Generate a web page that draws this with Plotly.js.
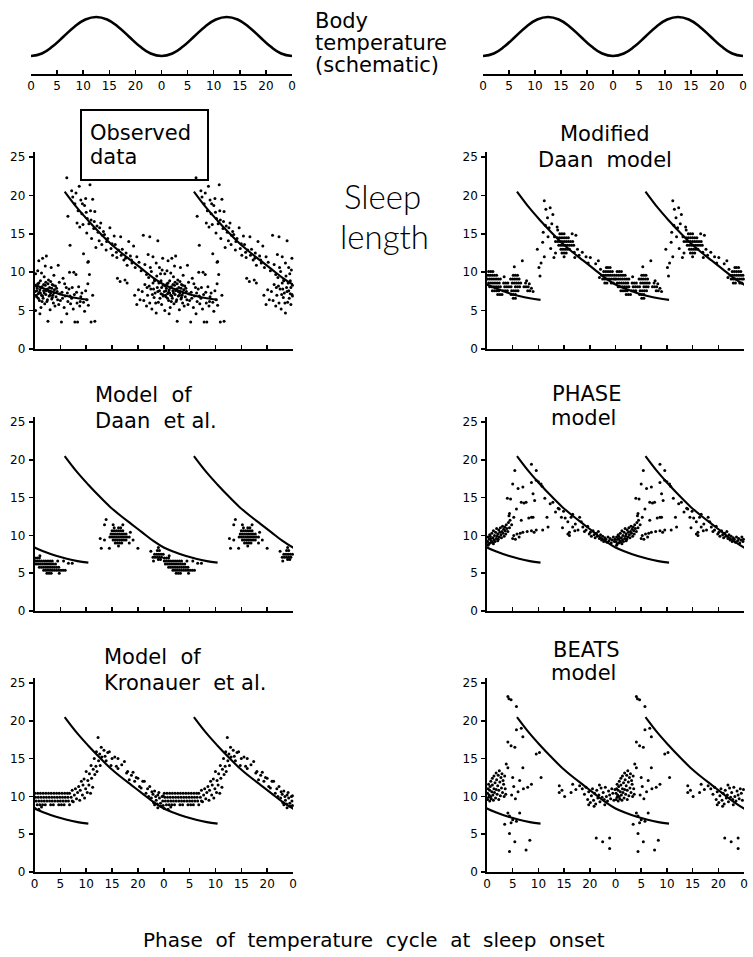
<!DOCTYPE html>
<html><head><meta charset="utf-8">
<script src="https://cdn.plot.ly/plotly-3.0.1.min.js"></script>
<style>html,body{margin:0;padding:0;background:#fff}</style>
</head><body><div id="chart" style="width:753px;height:957px"></div>
<script>
// ---------------- DATA ----------------
const TICK_POS = [0,4.8,9.6,14.4,19.2,24,28.8,33.6,38.4,43.2,48];
const TICK_TEXT = ['0','5','10','15','20','0','5','10','15','20','0'];
const Y_TICKS = [0,5,10,15,20,25];

// schematic body temperature, one cycle (double plotted)
const TEMP_PHASE = [0,2,4,6,8,10,12,14,16,18,20,22,24];
const TEMP_VALUE = [-1,-0.87,-0.5,0,0.5,0.87,1,0.87,0.5,0,-0.5,-0.87,-1];

// reference curve (fit to observed sleep length), drawn in every panel
const CURVE_PHASE = [5.6,8,10,12,14,16,18,20,22,24,26,28,30,32,34];
const CURVE_LEN   = [20.5,18.3,16.7,15.2,13.8,12.6,11.5,10.4,9.3,8.4,7.8,7.3,6.9,6.6,6.4];

// [phase (0-24), sleep length h] — each panel is double plotted
const observed = [
[0.1,7.5],[0.2,9.8],[0.3,8.2],[0.4,6.8],[0.5,7.9],[0.6,10.2],[0.7,7.2],[0.8,8.6],[0.9,6.3],[1.0,7.7],[1.1,8.9],[1.2,5.4],[1.3,7.0],[1.4,8.1],[1.5,11.8],[1.6,6.6],[1.7,7.6],[1.8,9.4],[1.9,5.9],[2.0,8.3],[2.1,7.1],[2.2,12.1],[2.3,6.2],[2.4,7.8],[2.5,3.6],[2.6,9.0],[2.7,6.9],[2.8,8.0],[2.9,5.1],[3.0,7.3],[3.1,10.6],[3.2,6.5],[3.3,8.4],[3.4,7.0],[3.5,6.0],[3.6,9.6],[3.7,7.7],[3.8,5.6],[3.9,8.2],[4.0,6.8],[4.2,7.5],[4.4,10.9],[4.5,5.8],[4.6,8.7],[4.8,6.3],[5.0,3.5],[5.1,7.4],[5.3,9.2],[5.5,5.4],[5.7,6.9],[5.9,8.0],[6.0,4.6],[6.2,6.2],[6.4,7.8],[6.5,10.0],[6.7,5.9],[6.9,6.6],[7.2,5.2],[7.4,7.1],[7.5,3.5],[7.7,9.7],[7.9,6.0],[8.0,3.5],[8.2,8.1],[8.4,5.6],[8.6,6.8],[8.8,7.3],[9.1,6.1],[9.3,4.9],[9.5,7.6],[9.7,6.4],[9.9,8.5],[10.0,5.7],[10.2,9.7],[10.5,3.5],
[0.3,7.0],[0.6,8.5],[0.9,7.4],[1.2,8.0],[1.5,6.9],[1.8,7.3],[2.1,8.7],[2.4,6.4],[2.7,7.5],[3.0,8.8],[3.3,6.7],[3.6,7.3],[0.2,5.0],[1.0,4.6],[2.0,10.8],[0.8,11.5],[1.3,9.9],[9.9,11.3],[11.2,3.6],[10.8,7.0],
[0.4,7.6],[0.7,6.6],[1.1,7.3],[1.4,6.2],[1.7,8.4],[2.2,7.6],[2.5,8.5],[2.9,7.0],[3.2,7.9],[3.5,8.3],[4.1,7.9],[4.3,6.4],[4.7,7.2],[5.2,6.6],[5.6,8.5],[6.1,7.3],[6.6,6.9],[7.0,8.0],[7.8,7.4],[8.5,6.2],
[6.0,22.3],[6.2,17.3],[6.6,13.5],[6.9,20.6],[7.1,19.8],[7.3,10.0],[7.5,18.9],[7.7,20.3],[7.9,16.4],[8.1,18.0],[8.3,21.2],[8.4,15.9],[8.6,19.4],[8.8,17.6],[9.0,16.2],[9.1,12.4],[9.3,18.7],[9.5,19.6],[9.7,15.1],[9.8,17.0],[10.0,11.4],[10.1,16.3],[10.3,21.4],[10.5,16.8],[10.6,14.4],[10.8,19.5],[11.0,15.7],[11.2,17.9],[11.4,13.2],[11.6,16.0],[11.8,15.2],[12.0,14.1],[12.3,16.4],[12.5,13.6],[12.8,15.3],[13.0,14.9],[13.3,12.9],[13.6,14.4],[14.0,15.8],[14.2,13.1],[14.5,12.2],[14.8,14.7],[15.0,13.6],[15.3,11.9],[15.6,12.9],[16.0,14.6],[16.3,13.0],[16.6,11.6],[17.0,12.5],[17.2,10.9],[17.5,14.0],[17.8,12.1],[18.1,11.2],[18.4,13.4],[18.7,10.6],[19.0,12.0],[19.4,11.3],[19.8,10.2],[20.2,14.8],[20.5,11.0],[20.8,9.7],[21.1,12.3],[21.4,14.6],[21.7,10.1],[22.0,12.0],[22.3,9.0],[22.6,11.2],[22.9,14.1],[23.2,10.6],[23.5,8.9],[23.8,11.8],
[8.9,18.9],[9.6,17.8],[10.4,18.0],[11.1,16.6],[12.1,15.8],[12.6,14.8],[13.4,14.0],[14.4,13.7],[15.2,12.6],[16.1,12.2],[16.9,11.8],[18.0,11.6],
[15.4,9.2],[15.9,8.8],[16.8,9.0],[17.2,8.6],[18.6,7.0],[19.0,5.8],[19.3,7.7],[19.6,6.4],
[20.0,7.5],[20.3,6.3],[20.5,8.4],[20.8,5.6],[21.0,7.0],[21.2,9.3],[21.4,6.0],[21.6,7.8],[21.8,5.2],[22.0,8.6],[22.2,6.7],[22.4,7.3],[22.6,4.7],[22.8,8.0],[23.0,6.1],[23.2,7.6],[23.4,9.8],[23.6,5.8],[23.8,7.1],[23.9,8.3],[21.5,10.6],[22.1,7.8],[22.7,9.5],[23.1,8.6],[23.5,7.2],[23.7,10.3],[20.9,8.0],[22.5,6.0],
[21.3,8.2],[21.9,7.1],[22.3,8.9],[22.9,7.5],[23.3,6.6],[23.6,8.0],[23.9,6.9]
];

const modifiedDaan = [
[0.3,10.1],[0.7,10.1],[1.1,10.1],
[0.2,9.6],[0.6,9.6],[1.0,9.6],[1.4,9.6],[1.8,9.6],[4.9,9.6],[5.3,9.6],[5.7,9.6],
[0.1,9.1],[0.5,9.1],[0.9,9.1],[1.3,9.1],[1.7,9.1],[2.1,9.1],[2.5,9.1],[4.4,9.1],[4.8,9.1],[5.2,9.1],[5.6,9.1],[6.0,9.1],
[0.3,8.6],[0.7,8.6],[1.1,8.6],[1.5,8.6],[1.9,8.6],[2.3,8.6],[3.1,8.6],[3.5,8.6],[3.9,8.6],[4.7,8.6],[5.1,8.6],[5.5,8.6],[5.9,8.6],[6.3,8.6],[7.2,8.6],
[0.5,8.1],[0.9,8.1],[1.3,8.1],[1.7,8.1],[2.1,8.1],[2.5,8.1],[3.3,8.1],[3.7,8.1],[4.1,8.1],[4.5,8.1],[5.3,8.1],[5.7,8.1],[6.1,8.1],[6.9,8.1],[7.3,8.1],[7.7,8.1],
[1.0,7.6],[1.4,7.6],[1.8,7.6],[2.2,7.6],[3.0,7.6],[3.4,7.6],[3.8,7.6],[4.6,7.6],[5.0,7.6],[5.4,7.6],[5.8,7.6],[7.6,7.6],[8.0,7.6],
[2.0,7.1],[2.4,7.1],[2.8,7.1],[4.5,7.1],[4.9,7.1],[5.3,7.1],[4.9,6.6],[5.3,6.6],
[5.1,10.7],[6.6,11.5],[3.2,9.4],[7.9,8.5],[8.3,7.9],[8.6,7.5],[7.4,8.9],
[9.4,13.0],[9.9,9.5],[10.1,11.2],[10.4,13.9],[10.7,19.3],[10.7,12.0],[11.0,18.2],[11.3,17.1],[11.6,15.8],[11.9,13.1],[12.5,11.9],[10.9,16.1],[11.4,14.6],[12.1,16.3],[12.3,17.5],[11.8,18.4],[9.7,10.6],[10.5,15.2],
[13.2,15.5],[13.6,15.0],[14.0,15.0],[14.4,15.0],
[13.2,14.5],[13.6,14.5],[14.0,14.5],[14.4,14.5],[14.8,14.5],[15.2,14.5],
[12.8,14.0],[13.2,14.0],[13.6,14.0],[14.0,14.0],[14.4,14.0],[14.8,14.0],[15.2,14.0],[15.6,14.0],[16.0,14.0],
[13.4,13.5],[13.8,13.5],[14.2,13.5],[14.6,13.5],[15.0,13.5],[15.4,13.5],[15.8,13.5],[16.2,13.5],
[13.8,13.0],[14.2,13.0],[14.6,13.0],[15.0,13.0],[15.4,13.0],
[14.0,12.5],[14.4,12.5],[14.8,12.5],[16.3,12.6],[14.4,12.0],
[12.8,12.5],[13.1,15.9],[16.6,14.8],[16.9,13.0],[17.2,12.2],[12.6,14.6],[15.9,15.0],[16.4,11.9],
[17.8,12.6],[18.5,12.0],[19.3,11.9],[20.3,11.1],[20.8,11.5],[18.9,11.2],
[22.3,10.6],[22.6,10.6],[23.0,10.6],
[21.8,10.1],[22.2,10.1],[22.6,10.1],[23.0,10.1],[23.4,10.1],
[21.4,9.6],[21.8,9.6],[22.2,9.6],[22.6,9.6],[23.0,9.6],[23.4,9.6],[23.8,9.6],
[21.6,9.1],[22.0,9.1],[22.4,9.1],[22.8,9.1],[23.2,9.1],[23.6,9.1],[23.9,9.1],
[22.0,8.6],[22.4,8.6],[23.2,8.6],[23.6,8.6],[21.2,10.4],[21.0,9.3]
];

const daanModel = [
[0.1,7.0],[0.5,7.0],[0.9,7.0],
[0.1,6.6],[0.5,6.6],[0.9,6.6],[1.3,6.6],[1.7,6.6],[2.1,6.6],[2.5,6.6],[2.9,6.6],[3.3,6.6],
[0.3,6.2],[0.7,6.2],[1.1,6.2],[1.5,6.2],[1.9,6.2],[2.3,6.2],[2.7,6.2],[3.1,6.2],[3.5,6.2],[3.9,6.2],
[0.9,5.8],[1.3,5.8],[1.7,5.8],[2.1,5.8],[2.5,5.8],[2.9,5.8],[3.3,5.8],[3.7,5.8],[4.1,5.8],[4.5,5.8],
[1.7,5.4],[2.1,5.4],[2.5,5.4],[2.9,5.4],[3.3,5.4],[3.7,5.4],[4.1,5.4],[4.5,5.4],[4.9,5.4],[5.3,5.4],[5.7,5.4],
[2.3,5.0],[2.7,5.0],[3.1,5.0],[4.6,5.0],
[4.3,6.6],[5.4,6.6],[6.3,6.3],[7.0,6.3],[1.0,7.3],
[13.3,12.1],[13.0,11.4],[14.6,11.4],[16.4,11.4],[14.8,11.0],[15.6,11.0],[16.0,11.0],
[14.4,10.6],[14.8,10.6],[15.2,10.6],[15.6,10.6],[16.0,10.6],[16.4,10.6],
[14.2,10.2],[14.6,10.2],[15.0,10.2],[15.4,10.2],[15.8,10.2],[16.2,10.2],[16.6,10.2],[17.0,10.2],
[14.0,9.8],[14.4,9.8],[14.8,9.8],[15.2,9.8],[15.6,9.8],[16.0,9.8],[16.4,9.8],[16.8,9.8],[17.2,9.8],[17.6,9.8],
[13.0,9.4],[14.6,9.4],[15.0,9.4],[15.4,9.4],[15.8,9.4],[16.2,9.4],[16.6,9.4],[17.0,9.4],[18.3,9.4],
[15.0,9.0],[15.4,9.0],[15.8,9.0],[16.2,9.0],[17.6,9.0],[15.6,8.6],
[12.4,8.3],[13.9,8.3],[19.2,8.3],[12.2,9.6],[17.8,10.4],
[23.0,8.4],[22.8,8.0],[23.2,8.0],
[22.3,7.5],[22.7,7.5],[23.1,7.5],[23.5,7.5],[23.9,7.5],
[22.0,7.1],[22.4,7.1],[22.8,7.1],[23.2,7.1],[23.6,7.1],
[23.0,6.8],[23.4,6.8],[21.6,7.9],[22.1,6.6]
];

const phaseModel = [
[0.1,9.2],[0.2,9.8],[0.3,8.9],[0.4,9.5],[0.5,10.1],[0.6,9.0],[0.7,9.6],[0.8,9.3],[0.9,10.3],[1.0,9.1],[1.1,9.7],[1.2,10.6],[1.3,9.4],[1.4,10.0],[1.5,9.2],[1.6,10.4],[1.7,9.6],[1.8,10.9],[1.9,9.9],[2.0,10.2],[2.1,9.5],[2.2,10.7],[2.3,9.8],[2.4,10.4],[2.5,11.0],[2.6,10.1],[2.7,9.7],[2.8,10.5],[2.9,11.2],[3.0,10.3],[3.1,10.8],[3.2,9.9],[3.3,11.1],[3.4,10.6],[3.5,10.2],[3.6,11.4],[3.7,10.9],[3.9,10.5],[4.0,11.7],[4.2,11.0],[0.2,8.7],[0.6,9.9],[1.2,8.9],[2.0,9.3],
[4.1,12.6],[4.3,12.0],[4.6,11.4],[4.4,14.8],[3.8,14.9],
[5.0,10.0],[5.6,10.2],[6.2,10.3],[6.7,10.4],[7.5,10.5],[8.3,10.6],[9.2,10.7],[10.4,10.7],[11.4,11.1],[8.8,10.4],[6.0,9.8],[5.3,9.5],[4.8,9.6],
[4.2,12.9],[5.5,13.5],[6.4,12.0],[6.4,14.4],[7.3,14.4],[8.6,12.4],[8.9,14.6],[8.3,12.4],[7.8,12.3],[5.0,12.4],
[4.8,16.8],[5.2,18.6],[5.8,16.2],[6.7,16.4],[8.3,19.4],[8.3,17.0],[9.2,18.6],[9.2,17.3],[10.1,16.8],[8.6,15.5],[6.9,14.3],[9.6,17.1],[10.3,16.5],
[10.8,14.9],[11.2,12.4],[11.8,14.2],[12.3,14.4],[12.8,13.1],[13.3,13.6],[13.5,13.5],[13.9,12.4],[14.3,13.2],[14.6,12.3],[15.1,11.8],[15.4,10.4],[15.7,12.4],[16.0,11.1],[16.0,12.8],[16.5,11.5],[17.0,10.7],[17.3,12.4],[17.6,11.8],[17.9,11.1],[18.2,10.5],[18.5,10.7],[18.8,11.2],[19.1,10.2],[15.1,10.2],[15.4,10.0],[16.4,10.6],[14.1,11.0],
[19.3,10.4],[19.5,9.9],[19.8,10.6],[20.0,10.1],[20.2,9.7],[20.4,10.3],[20.6,9.9],[20.8,10.5],[21.0,9.6],[21.2,10.1],[21.4,9.4],[21.6,9.9],[21.8,9.2],[22.0,9.7],[22.2,9.5],[22.4,9.1],[22.6,9.8],[22.8,9.3],[23.0,9.6],[23.2,9.0],[23.4,9.4],[23.6,9.8],[23.8,9.2],[23.9,9.5]
];

const kronauerModel = [
[0.1,10.4],[0.6,10.4],[1.1,10.4],[1.6,10.4],[2.1,10.4],[2.6,10.4],[3.1,10.4],[3.6,10.4],[4.1,10.4],[4.6,10.4],[5.1,10.4],[5.6,10.4],[6.1,10.4],[6.5,10.4],
[0.2,9.9],[0.7,9.9],[1.2,9.9],[1.7,9.9],[2.2,9.9],[2.7,9.9],[3.2,9.9],[3.7,9.9],[4.2,9.9],[4.7,9.9],[5.2,9.9],[5.7,9.9],[6.2,9.9],[6.8,9.9],
[0.3,9.4],[0.8,9.4],[1.3,9.4],[1.8,9.4],[2.3,9.4],[2.8,9.4],[3.3,9.4],[3.8,9.4],[4.3,9.4],[4.8,9.4],[5.3,9.4],[5.8,9.4],[6.3,9.4],[7.0,9.4],
[0.5,8.9],[1.0,8.9],[1.5,8.9],[2.0,8.9],[3.0,8.9],[3.5,8.9],[4.5,8.9],[5.0,8.9],[5.5,8.9],[6.5,8.9],
[0.1,8.4],[0.8,8.3],[1.3,8.6],
[7.0,10.8],[7.2,9.3],[7.4,10.2],[7.6,11.0],[7.8,9.7],[8.0,10.5],[8.2,11.3],[8.4,9.5],[8.5,10.8],[8.7,12.0],[8.9,10.2],[9.0,11.5],[9.2,12.3],[9.3,9.8],[9.5,11.0],[9.6,13.3],[9.8,10.5],[9.9,12.1],[10.1,11.5],[10.2,13.0],[10.4,10.4],[10.5,14.1],[10.6,12.4],[10.8,11.2],[10.9,13.6],[11.1,15.0],[11.2,12.9],[11.4,14.0],[11.5,15.9],[11.6,13.3],[11.8,17.8],[11.9,14.7],[12.1,15.6],[12.2,14.1],[12.4,16.5],[12.5,15.2],
[12.9,16.1],[13.1,15.3],[13.3,14.7],[13.6,15.8],[13.9,15.9],[14.2,14.1],[14.4,15.0],[14.9,15.2],[15.2,14.0],[15.5,15.0],[15.5,13.7],[16.2,14.2],[16.7,14.6],[17.1,13.1],[17.3,13.3],[17.6,12.2],[18.0,12.8],[18.3,13.2],[18.6,12.0],[18.9,12.5],[19.2,12.4],[19.5,11.3],[19.8,11.1],[20.1,12.0],[20.4,12.0],[20.7,10.4],[21.0,11.0],[21.4,11.3],[21.7,9.8],[22.0,10.3],[22.3,10.7],[22.3,8.9],[22.6,9.5],[22.9,10.2],[22.9,8.5],[23.2,9.8],[23.5,8.7],[23.8,9.4],[23.9,10.1],
[21.2,10.0],[21.8,10.6],[22.1,9.2],[22.5,10.0],[22.8,9.0],[23.1,10.5],[23.4,9.1],[23.7,10.0],[23.9,8.8]
];

const beatsModel = [
[0.1,9.6],[0.1,10.4],[0.2,11.0],[0.3,9.9],[0.3,11.6],[0.4,10.2],[0.5,9.4],[0.5,10.8],[0.6,11.3],[0.7,10.0],[0.7,12.0],[0.8,9.7],[0.9,10.6],[1.0,11.5],[1.0,12.4],[1.1,10.2],[1.2,9.5],[1.3,11.0],[1.3,12.7],[1.4,10.5],[1.5,11.8],[1.6,9.8],[1.7,10.9],[1.7,13.1],[1.8,12.2],[1.9,10.3],[2.0,11.4],[2.1,12.8],[2.2,9.6],[2.2,10.8],[2.3,13.4],[2.4,11.9],[2.5,10.1],[2.6,12.5],[2.7,11.1],[2.8,13.0],[2.9,10.5],[3.0,12.1],[3.1,11.6],[3.2,10.0],[3.3,12.7],[3.4,11.0],[3.5,10.3],
[3.6,14.3],[3.9,13.8],[3.9,23.2],[4.1,22.9],[4.5,22.8],[5.5,21.9],[3.9,17.2],[4.5,16.7],[5.2,16.5],[5.5,18.8],[6.4,19.0],[6.7,17.9],[4.8,12.5],[6.1,12.1],[6.7,13.8],[9.2,15.6],[9.8,15.8],[10.1,12.5],[8.3,11.6],[7.6,11.2],[5.0,11.3],[5.8,10.6],[6.8,11.0],[4.6,10.2],[5.3,9.7],
[3.9,7.8],[4.2,7.4],[4.5,6.5],[5.5,6.7],[3.3,6.3],[4.2,5.1],[5.2,4.0],[4.2,2.7],[7.3,2.9],[8.0,4.2],[6.1,7.8],[4.8,6.9],
[13.5,11.4],[13.5,10.5],[14.5,10.0],[15.7,10.5],[16.0,11.6],[17.3,11.4],[16.6,10.9],[14.0,10.8],
[20.4,4.5],[21.6,4.0],[22.9,4.5],[22.9,3.1],
[17.8,11.0],[18.2,10.3],[18.5,11.2],[18.8,9.6],[19.0,10.6],[19.3,9.2],[19.5,10.1],[19.7,11.0],[19.9,9.5],[20.1,10.4],[20.3,9.0],[20.5,10.8],[20.7,9.8],[20.9,10.2],[21.1,9.3],[21.3,11.1],[21.5,9.9],[21.7,10.5],[21.9,9.6],[22.1,11.2],[22.3,10.0],[22.5,9.4],[22.7,10.7],[22.9,10.2],[23.1,9.7],[23.3,11.0],[23.5,10.4],[23.7,9.5],[23.9,10.9],[19.0,8.9],[20.0,8.7],[21.0,11.5],[22.0,8.9]
];

// ---------------- LAYOUT HELPERS ----------------
const W = 753, H = 957;
const fx = p => p / W, fy = p => 1 - p / H;
const FONT = 'DejaVu Sans';
const COLS = {L: [34.5, 293], R: [487, 744]};
const ROWS = [[349, 157], [611, 422], [872, 683]];   // pixel of y=0 and y=25
function ydom(r) { const per = (r[0] - r[1]) / 25; return [fy(r[0]), fy(r[1] - 0.6 * per)]; }

const traces = [];
const layout = {
  width: W, height: H, margin: {l: 0, r: 0, t: 0, b: 0}, autosize: false,
  paper_bgcolor: '#fff', plot_bgcolor: 'rgba(0,0,0,0)', showlegend: false,
  font: {family: FONT, color: '#000', size: 12},
  annotations: [], shapes: []
};
const TICKFONT = {family: FONT, size: 12, color: '#000'};

function xAxisCommon(showLabels) {
  return {range: [0, 48], showline: true, linecolor: '#000', linewidth: 1.7,
    ticks: 'inside', ticklen: 4, tickwidth: 1.5, tickcolor: '#000',
    tickmode: 'array', tickvals: TICK_POS, ticktext: TICK_TEXT, showticklabels: showLabels,
    tickfont: TICKFONT, showgrid: false, zeroline: false, fixedrange: true};
}

// schematic temperature panels (axes 1 and 2)
[[31, 292], [483, 743]].forEach((s, i) => {
  const n = i + 1, sfx = n === 1 ? '' : String(n);
  layout['xaxis' + sfx] = Object.assign(xAxisCommon(true), {domain: [fx(s[0]), fx(s[1])], anchor: 'y' + sfx});
  layout['yaxis' + sfx] = {domain: [fy(74), fy(8)], range: [-1.923, 1.46], visible: false, anchor: 'x' + sfx, fixedrange: true};
  const xs = [], ys = [];
  TEMP_PHASE.forEach((p, k) => { xs.push(p); ys.push(TEMP_VALUE[k]); });
  TEMP_PHASE.forEach((p, k) => { if (k > 0) { xs.push(p + 24); ys.push(TEMP_VALUE[k]); } });
  traces.push({type: 'scatter', mode: 'lines', x: xs, y: ys, xaxis: 'x' + sfx, yaxis: 'y' + sfx,
    line: {color: '#000', width: 2.6, shape: 'spline', smoothing: 1.3}, hoverinfo: 'skip'});
});

const panels = [
  {pts: observed,      col: 'L', row: 0},
  {pts: modifiedDaan,  col: 'R', row: 0},
  {pts: daanModel,     col: 'L', row: 1},
  {pts: phaseModel,    col: 'R', row: 1},
  {pts: kronauerModel, col: 'L', row: 2},
  {pts: beatsModel,    col: 'R', row: 2}
];

panels.forEach((pn, i) => {
  const n = i + 3;
  layout['xaxis' + n] = Object.assign(xAxisCommon(pn.row === 2), {domain: [fx(COLS[pn.col][0]), fx(COLS[pn.col][1])], anchor: 'y' + n});
  layout['yaxis' + n] = {domain: ydom(ROWS[pn.row]), range: [0, 25.6], anchor: 'x' + n,
    showline: true, linecolor: '#000', linewidth: 1.7, ticks: 'outside', ticklen: 4, tickwidth: 1.5, tickcolor: '#000',
    tickmode: 'array', tickvals: Y_TICKS, tickfont: TICKFONT, ticklabelstandoff: 1,
    showgrid: false, zeroline: false, fixedrange: true};
  [-24, 0, 24].forEach(off => {
    traces.push({type: 'scatter', mode: 'lines', x: CURVE_PHASE.map(p => p + off), y: CURVE_LEN,
      xaxis: 'x' + n, yaxis: 'y' + n, line: {color: '#000', width: 2.1, shape: 'spline'}, hoverinfo: 'skip'});
  });
  const xs = [], ys = [];
  pn.pts.forEach(([p, l]) => { xs.push(p); ys.push(l); if (p + 24 <= 48) { xs.push(p + 24); ys.push(l); } });
  traces.push({type: 'scatter', mode: 'markers', x: xs, y: ys, xaxis: 'x' + n, yaxis: 'y' + n,
    marker: {color: '#000', size: 3}, cliponaxis: false, hoverinfo: 'skip'});
});

function ann(text, x, y, size, xanchor, weight, family) {
  layout.annotations.push({text: text, xref: 'paper', yref: 'paper', x: fx(x), y: fy(y),
    xanchor: xanchor, yanchor: 'middle', align: 'left', showarrow: false,
    font: {family: family || FONT, size: size, color: '#000', weight: weight || 'normal'}});
}
const NB = '\u00a0';
const GAP = NB + ' ';
ann('Body', 313, 21, 21, 'left');
ann('temperature', 313, 43, 21, 'left');
ann('(schematic)', 313, 65, 21, 'left');
ann('Sleep', 382, 196, 33, 'center', 300, 'Lato');
ann('length', 384, 236, 33, 'center', 300, 'Lato');
ann('Observed', 88, 133, 21, 'left');
ann('data', 88, 157, 21, 'left');
ann('Modified', 605, 134, 21, 'center');
ann('Daan' + NB + ' model', 605, 160, 21, 'center');
ann('Model' + NB + ' of', 93, 395, 21, 'left');
ann('Daan' + NB + ' et' + NB + 'al.', 93, 421, 21, 'left');
ann('PHASE', 586, 394, 21, 'center');
ann('model', 583, 418, 21, 'center');
ann('Model' + NB + ' of', 102, 657, 21, 'left');
ann('Kronauer' + NB + ' et' + NB + 'al.', 102, 683, 21, 'left');
ann('BEATS', 586, 650, 21, 'center');
ann('model', 583, 673, 21, 'center');
ann(['Phase','of','temperature','cycle','at','sleep','onset'].join(GAP), 374, 940, 20, 'center');

layout.shapes.push({type: 'rect', xref: 'paper', yref: 'paper', x0: fx(81), x1: fx(208), y0: fy(180), y1: fy(110),
  line: {color: '#000', width: 2}, fillcolor: 'rgba(0,0,0,0)'});

Plotly.newPlot('chart', traces, layout, {staticPlot: true, displayModeBar: false});
</script>
</body></html>
